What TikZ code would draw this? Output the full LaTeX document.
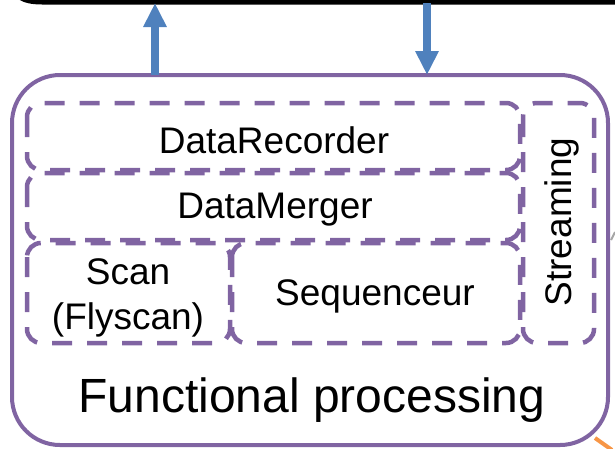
\documentclass[tikz,border=0pt]{standalone}
\usepackage{fontspec}
\setmainfont{Liberation Sans}
\usetikzlibrary{arrows.meta}
\definecolor{frame}{HTML}{8064A2}
\definecolor{arrowblue}{HTML}{4F81BD}
\definecolor{orangeline}{HTML}{F79646}
\tikzset{
  dbox/.style={draw=frame, line width=4.5pt, dash pattern=on 20pt off 15pt, rounded corners=14pt},
  lbl/.style={font=\fontsize{37}{45}\selectfont, align=center, inner sep=0pt},
  bigarrow/.style={draw=arrowblue, line width=8pt, -{Triangle[width=22pt,length=24pt]}}
}
\begin{document}
\begin{tikzpicture}[x=1pt,y=-1pt]
\useasboundingbox (0,0) rectangle (615,448);
% top black frame (fragment)
\fill[black] (18,-1) .. controls (24,3) and (32,4.5) .. (42,4.5) -- (616,4.5) -- (616,-1) -- cycle;
% outer frame
\draw[draw=frame, line width=4pt, rounded corners=48pt] (12,75) rectangle (608,445);
\coordinate (outerTopL) at (155,75);
\coordinate (outerTopR) at (427,75);
\coordinate (topL) at (155,3);
\coordinate (topR) at (427,3);
% dashed boxes
\draw[dbox] (27,103) rectangle (520,170);
\draw[dbox] (27,173) rectangle (520,240);
\draw[dbox] (27,243) rectangle (230,343);
\draw[dbox] (232,243) rectangle (520,343);
\draw[dbox] (523,103) rectangle (594,343);
% labels
\node[lbl] (rec) at (274,140) {DataRecorder};
\node[lbl] (mer) at (275,210) {DataMerger};
\node[lbl] (scan) at (128,298) {Scan\\(Flyscan)};
\node[lbl] (seq) at (375,296) {Sequenceur};
\node[lbl, rotate=90] (str) at (562,222) {Streaming};
\node[font=\fontsize{48}{56}\selectfont, inner sep=0pt] (fp) at (312,400) {Functional processing};
% arrows
\draw[bigarrow] (outerTopL) -- (topL);
\draw[bigarrow] (topR) -- (outerTopR);
% fragments of neighbouring shapes
\draw[gray!70, line width=2pt] (611,240) -- (615,232);
\draw[orangeline, line width=4pt] (595,438) -- (612,450);
\end{tikzpicture}
\end{document}
